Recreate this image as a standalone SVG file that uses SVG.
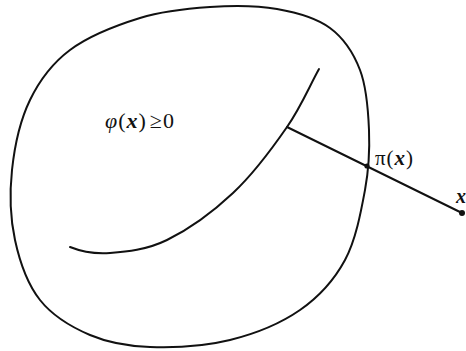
<svg xmlns="http://www.w3.org/2000/svg" width="466" height="351" viewBox="0 0 466 351">
<style>
.ln{fill:none;stroke:#111;stroke-width:2;stroke-linecap:round;stroke-linejoin:round}
.t{font-family:"Liberation Serif","DejaVu Serif",serif;fill:#111}
.b{font-weight:bold;font-style:italic}
</style>
<rect width="466" height="351" fill="#fff"/>
<g id="region">
<path class="ln" d="M277,9 C297,12.5 316.2,17.8 330,28 C343.8,38.2 353.5,53 360,70 C366.5,87 368.2,110 369,130 C369.8,150 369,168.3 365,190 C361,211.7 355.8,240 345,260 C334.2,280 319.2,296.7 300,310 C280.8,323.3 255,333.8 230,340 C205,346.2 173.3,347.8 150,347 C126.7,346.2 108.3,342.8 90,335 C71.7,327.2 52.5,315.8 40,300 C27.5,284.2 19.7,261.7 15,240 C10.3,218.3 9.5,193.3 12,170 C14.5,146.7 20.3,120 30,100 C39.7,80 51.7,63.7 70,50 C88.3,36.3 116.7,25.2 140,18 C163.3,10.8 187.2,8.5 210,7 C232.8,5.5 257,5.5 277,9 Z"/>
<text class="t" x="105" y="128" font-size="22" letter-spacing="1"><tspan font-style="italic">φ</tspan>(<tspan class="b">x</tspan>)<tspan dx="3">≥0</tspan></text>
</g>
<g id="curve">
<path class="ln" d="M319,69 C309,87 301.3,106.3 287,127 C272.7,147.7 253,174.2 233,193 C213,211.8 187.5,230 167,240 C146.5,250 126.2,251.8 110,253 C93.8,254.2 80,251 70,247"/>
</g>
<g id="connectors">
<line class="ln" x1="287" y1="127" x2="462" y2="213"/>
</g>
<g id="projection">
<circle cx="367" cy="166" r="2.6" fill="#111"/>
<text class="t" x="375" y="165" font-size="21" letter-spacing="1">π(<tspan class="b">x</tspan>)</text>
</g>
<g id="point">
<circle cx="462" cy="213" r="3" fill="#111"/>
<text class="t b" x="456" y="203" font-size="20">x</text>
</g>
</svg>
